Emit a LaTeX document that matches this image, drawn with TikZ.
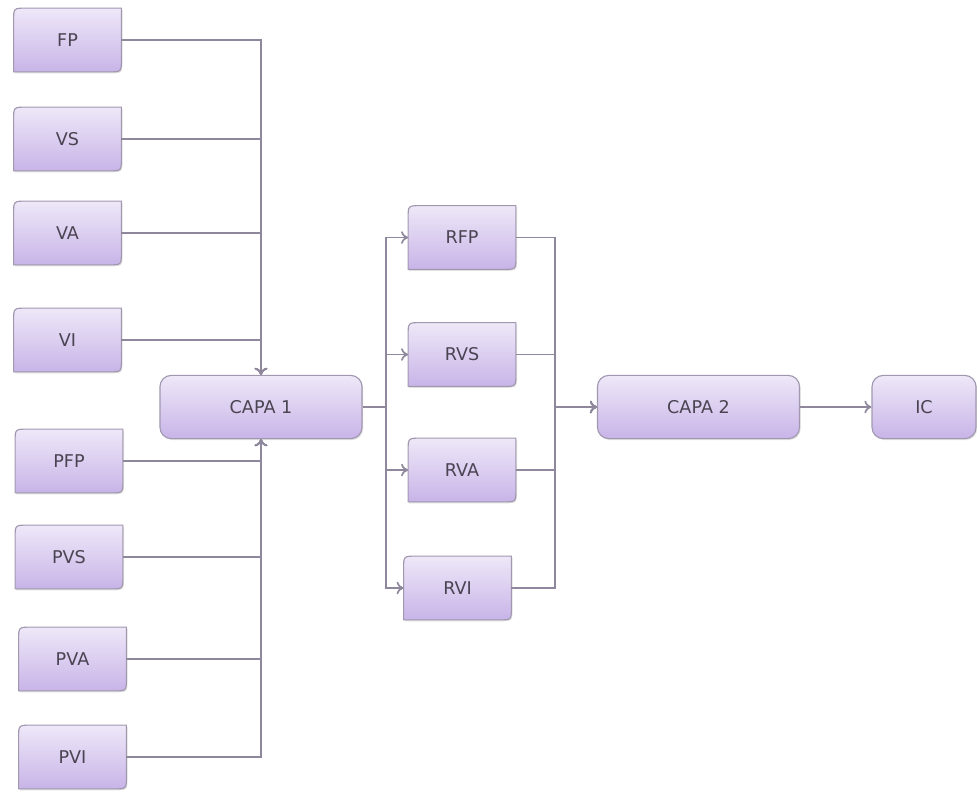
\documentclass[tikz,border=0pt]{standalone}
\usepackage{fontspec}
\setmainfont{DejaVu Sans}
\usepackage{tikz}
\usetikzlibrary{arrows,arrows.meta,backgrounds,shadows}

\definecolor{boxtop}{HTML}{EEE8F8}
\definecolor{boxbot}{HTML}{C8B4E8}
\definecolor{boxedge}{HTML}{A198B0}
\definecolor{wirecol}{HTML}{8F889D}
\definecolor{txtcol}{HTML}{4A4452}

\tikzset{
  leafbox/.style={minimum width=2.68cm, minimum height=1.58cm, inner sep=0pt,
    text=txtcol, font=\fontsize{12.5}{14}\selectfont},
  capabox/.style={leafbox, minimum width=5.05cm, rounded corners=8pt,
    draw=boxedge, line width=0.8pt, top color=boxtop, bottom color=boxbot,
    drop shadow={opacity=0.25, shadow xshift=0.8pt, shadow yshift=-1pt}},
  leafskin/.style={draw=boxedge, line width=0.8pt, top color=boxtop, bottom color=boxbot,
    drop shadow={opacity=0.25, shadow xshift=0.8pt, shadow yshift=-1pt}},
  feed/.style={draw=wirecol, line width=1.2pt, -{To[length=5pt,width=9pt]}}
}

\begin{document}
\begin{tikzpicture}[x=0.025cm, y=-0.025cm]
\useasboundingbox (0,0) rectangle (977,791);

% inputs of the first layer
\foreach \n/\t/\x/\y in {fp/FP/67.5/40, vs/VS/67.5/139, va/VA/67.5/233, vi/VI/67.5/340,
    pfp/PFP/69/461, pvs/PVS/69/557, pva/PVA/72.5/659, pvi/PVI/72.5/757}
  \node[leafbox] (\n) at (\x,\y) {\t};

\node[capabox] (capa1) at (261,407) {CAPA 1};

% results of the first layer
\foreach \n/\t/\x/\y in {rfp/RFP/462/237.5, rvs/RVS/462/354.5, rva/RVA/462/470, rvi/RVI/457.5/588}
  \node[leafbox] (\n) at (\x,\y) {\t};

\node[capabox] (capa2) at (698.5,407) {CAPA 2};
\node[capabox, minimum width=2.6cm] (ic) at (924,407) {IC};

% boxes with two round corners
\begin{scope}[on background layer]
\foreach \n in {fp,vs,va,vi,pfp,pvs,pva,pvi,rfp,rvs,rva,rvi}
  \draw[leafskin] (\n.south west) -- ([yshift=-9pt]\n.north west)
    .. controls (\n.north west) .. ([xshift=9pt]\n.north west) -- (\n.north east)
    -- ([yshift=9pt]\n.south east) .. controls (\n.south east) .. ([xshift=-9pt]\n.south east)
    -- cycle;
\end{scope}

% wires into CAPA 1
\foreach \n in {fp,vs,va,vi}
  \draw[feed] (\n.east) -| (capa1.north);
\foreach \n in {pfp,pvs,pva,pvi}
  \draw[feed] (\n.east) -| (capa1.south);

% CAPA 1 to the R boxes
\coordinate (split) at (386,407);
\foreach \n in {rfp,rvs,rva,rvi}
  \draw[feed] (capa1.east) -- (split) |- (\n.west);

% R boxes into CAPA 2
\coordinate (merge) at (555,407);
\foreach \n in {rfp,rvs,rva,rvi}
  \draw[feed] (\n.east) -| (merge) -- (capa2.west);

\draw[feed] (capa2) -- (ic);
\end{tikzpicture}
\end{document}
